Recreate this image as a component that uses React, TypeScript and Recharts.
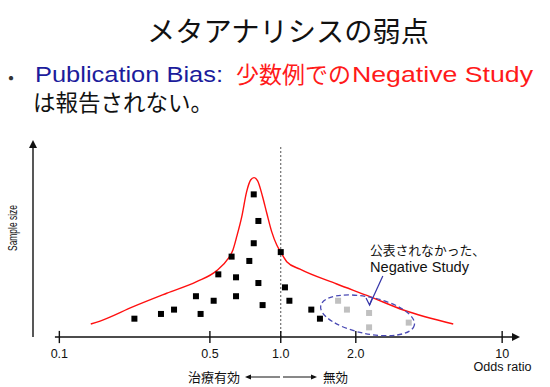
import React from 'react'
import {
  ComposedChart,
  Line,
  Scatter,
  XAxis,
  YAxis,
  ReferenceLine,
  ReferenceDot,
} from 'recharts'

// x is the position on the (hand drawn) odds-ratio axis, 0 = OR 1.0, ±1 = 0.1 / 10
// y is relative sample size (0..100)
const tickPositions = [-1, -0.32, 0, 0.339, 1]
const tickLabels = ['0.1', '0.5', '1.0', '2.0', '10']

const publishedX = [-0.661, -0.541, -0.482, -0.383, -0.362, -0.303, -0.282, -0.222, -0.202, -0.202, -0.142, -0.122, -0.122, -0.101, -0.101, -0.082, 0.0, 0.019, 0.039, 0.138, 0.177]
const publishedY = [9.3, 11.7, 13.9, 20.7, 11.7, 18.4, 31.8, 40.8, 30.3, 20.7, 38.6, 72.4, 47.6, 58.9, 27.4, 16.2, 43.1, 25.2, 18.4, 13.9, 9.3]

const unpublishedX = [0.259, 0.299, 0.399, 0.399, 0.578]
const unpublishedY = [18.4, 13.9, 12.2, 4.9, 7.3]

const funnelX = [-0.858, -0.816, -0.666, -0.515, -0.38, -0.289, -0.237, -0.216, -0.198, -0.176, -0.154, -0.136, -0.121, -0.105, -0.082, -0.063, -0.041, -0.018, 0.0, 0.027, 0.087, 0.253, 0.403, 0.554, 0.779]
const funnelY = [6.6, 8.1, 15.4, 22.2, 28.1, 33.7, 39.9, 44.2, 51.3, 61.1, 73.8, 79.7, 80.9, 79.4, 71.2, 62.8, 53.5, 46.7, 43.1, 38.2, 34.4, 26.9, 20.5, 13.7, 6.6]

const xMin = -1.119
const xMax = 1.0806
const yMax = 100

const published = publishedX.map((u, i) => ({ u, v: publishedY[i] }))
const unpublished = unpublishedX.map((u, i) => ({ u, v: unpublishedY[i] }))
const funnel = funnelX.map((u, i) => ({ u, v: funnelY[i] }))

const latin = '"Liberation Sans", Arial, sans-serif'
const jp = '"Noto Sans CJK JP", sans-serif'

const square = (fill: string) => (props: any) => (
  <rect x={props.cx - 3} y={props.cy - 3} width={6} height={6} fill={fill} />
)

const arrowRight = (props: any) => (
  <polygon points={`${props.cx},${props.cy} ${props.cx - 8},${props.cy - 4} ${props.cx - 8},${props.cy + 4}`} fill="#111" />
)
const arrowUp = (props: any) => (
  <polygon points={`${props.cx},${props.cy} ${props.cx - 4},${props.cy + 8} ${props.cx + 4},${props.cy + 8}`} fill="#111" />
)
const ellipse = (props: any) => (
  <ellipse
    cx={props.cx}
    cy={props.cy}
    rx={47.8}
    ry={18.3}
    transform={`rotate(11.7 ${props.cx} ${props.cy})`}
    fill="none"
    stroke="#4a4ab4"
    strokeWidth={1.3}
    strokeDasharray="5 3"
  />
)
const pointerHead = (props: any) => (
  <polyline
    points={`${props.cx - 3.5},${props.cy - 7} ${props.cx},${props.cy} ${props.cx + 3},${props.cy - 7.5}`}
    fill="none"
    stroke="#3434a8"
    strokeWidth={1.2}
  />
)

export default function App() {
  return (
    <div style={{ position: 'absolute', left: 0, top: 0, width: 550, height: 387, background: '#fff' }}>
      <ComposedChart
        width={550}
        height={387}
        margin={{ top: 140, right: 30, bottom: 20, left: 33 }}
      >
        <XAxis
          type="number"
          dataKey="u"
          domain={[xMin, xMax]}
          allowDataOverflow
          ticks={tickPositions}
          tickFormatter={(t: number) => tickLabels[tickPositions.indexOf(t)] ?? ''}
          axisLine={false}
          tickLine={false}
          tickSize={6}
          tickMargin={6}
          height={30}
          interval={0}
          tick={{ fontSize: 12.5, fill: '#111', fontFamily: latin }}
        />
        <YAxis type="number" dataKey="v" domain={[0, yMax]} allowDataOverflow hide />

        <ReferenceLine
          segment={[{ x: 0, y: 0 }, { x: 0, y: 96.6 }]}
          stroke="#555"
          strokeDasharray="2 2"
          strokeWidth={1}
          ifOverflow="visible"
        />
        <ReferenceLine
          segment={[{ x: -1.02, y: 0 }, { x: xMax - 0.03, y: 0 }]}
          stroke="#111"
          strokeWidth={1.4}
          ifOverflow="visible"
        />
        <ReferenceDot x={xMax} y={0} r={0} shape={arrowRight} ifOverflow="visible" />
        <ReferenceLine
          segment={[{ x: xMin, y: 0 }, { x: xMin, y: yMax - 3 }]}
          stroke="#111"
          strokeWidth={1.4}
          ifOverflow="visible"
        />
        <ReferenceDot x={xMin} y={yMax} r={0} shape={arrowUp} ifOverflow="visible" />
        {tickPositions.map((t) => (
          <ReferenceLine
            key={t}
            segment={[{ x: t, y: -3.1 }, { x: t, y: 3.1 }]}
            stroke="#111"
            strokeWidth={1.4}
            ifOverflow="visible"
          />
        ))}

        <Line
          data={funnel}
          dataKey="v"
          type="monotone"
          stroke="#ff1010"
          strokeWidth={1.4}
          dot={false}
          activeDot={false}
          isAnimationActive={false}
        />
        <Scatter data={published} shape={square('#000')} isAnimationActive={false} />
        <Scatter data={unpublished} shape={square('#c0c0c0')} isAnimationActive={false} />

        <ReferenceDot x={0.392} y={11.0} r={0} shape={ellipse} ifOverflow="visible" />
        <ReferenceLine
          segment={[{ x: 0.461, y: 31 }, { x: 0.401, y: 16.2 }]}
          stroke="#3434a8"
          strokeWidth={1.2}
          ifOverflow="visible"
        />
        <ReferenceDot x={0.401} y={16.2} r={0} shape={pointerHead} ifOverflow="visible" />
      </ComposedChart>

      <svg
        width={550}
        height={387}
        style={{ position: 'absolute', left: 0, top: 0, pointerEvents: 'none' }}
      >
        <text x={147} y={42} fontSize={28} fontFamily={jp} fill="#111" textLength={282} lengthAdjust="spacingAndGlyphs">
          メタアナリシスの弱点
        </text>

        <text x={1} y={86} fontSize={20} fontFamily={jp} fill="#333">・</text>
        <text x={35} y={81.5} fontSize={22} fontFamily={latin} fill="#1c1c9c" textLength={188} lengthAdjust="spacingAndGlyphs">
          Publication Bias:
        </text>
        <text x={236} y={83} fontSize={23} fontFamily={jp} fill="#ff1a1a" textLength={115} lengthAdjust="spacingAndGlyphs">
          少数例での
        </text>
        <text x={352} y={81.5} fontSize={22} fontFamily={latin} fill="#ff1a1a" textLength={181} lengthAdjust="spacingAndGlyphs">
          Negative Study
        </text>
        <text x={33} y={111} fontSize={22.5} fontFamily={jp} fill="#111" textLength={180} lengthAdjust="spacingAndGlyphs">
          は報告されない。
        </text>

        <text
          x={13}
          y={228}
          dy="0.35em"
          fontSize={12}
          fontFamily={latin}
          fill="#111"
          textAnchor="middle"
          textLength={46}
          lengthAdjust="spacingAndGlyphs"
          transform="rotate(-90 13 228)"
        >
          Sample size
        </text>

        <text x={502.5} y={371} fontSize={12.5} fontFamily={latin} fill="#111" textAnchor="middle" textLength={58} lengthAdjust="spacingAndGlyphs">
          Odds ratio
        </text>

        <text x={370} y={255} fontSize={13} fontFamily={jp} fill="#111" textLength={115} lengthAdjust="spacingAndGlyphs">
          公表されなかった、
        </text>
        <text x={370} y={271.5} fontSize={14} fontFamily={latin} fill="#111" textLength={99} lengthAdjust="spacingAndGlyphs">
          Negative Study
        </text>

        <text x={188} y={382} fontSize={13} fontFamily={jp} fill="#111" textLength={52} lengthAdjust="spacingAndGlyphs">
          治療有効
        </text>
        <line x1={250} y1={377} x2={280} y2={377} stroke="#111" strokeWidth={1} />
        <polygon points="245,377 251,374.5 251,379.5" fill="#111" />
        <line x1={283} y1={377} x2={312} y2={377} stroke="#111" strokeWidth={1} />
        <polygon points="317,377 311,374.5 311,379.5" fill="#111" />
        <text x={323} y={382} fontSize={13} fontFamily={jp} fill="#111" textLength={25} lengthAdjust="spacingAndGlyphs">
          無効
        </text>
      </svg>
    </div>
  )
}
